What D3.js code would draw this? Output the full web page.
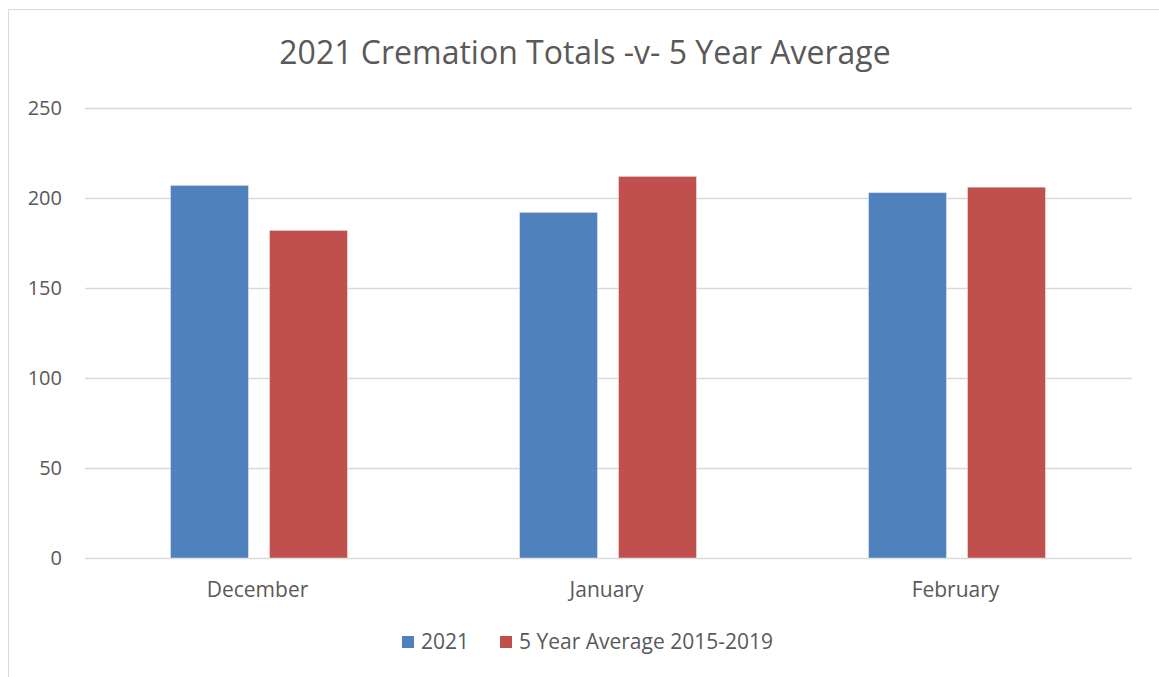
<!DOCTYPE html>
<html>
<head>
<meta charset="utf-8">
<script src="https://cdn.jsdelivr.net/npm/d3@7"></script>
<style>
  body { margin: 0; background: #fff; }
  svg text { font-family: "Open Sans", "Liberation Sans", sans-serif; fill: #595959; }
</style>
</head>
<body>
<svg></svg>
<script>
const width = 1159;
const height = 677;

// data
const months = ["December", "January", "February"];
const series = ["2021", "5 Year Average 2015-2019"];
const totals2021 = [207, 192, 203];
const avg5yr = [182, 212, 206];
const yTicks = [0, 50, 100, 150, 200, 250];
const colors = ["#4F81BD", "#C0504D"];

const plot = {left: 85, right: 1132, top: 108, bottom: 558};

let svg = d3.select("svg")
  .attr("width", width)
  .attr("height", height);

// chart border (left and top visible only)
svg.append("rect")
  .attr("x", 8.5).attr("y", 9.5)
  .attr("width", width + 20).attr("height", height + 20)
  .attr("fill", "none")
  .attr("stroke", "#d9d9d9");

svg.append("text")
  .attr("x", 585).attr("y", 64)
  .attr("text-anchor", "middle")
  .style("font-size", "32px")
  .text("2021 Cremation Totals -v- 5 Year Average");

let scX = d3.scaleBand()
  .domain(months)
  .range([plot.left, plot.right]);

let scY = d3.scaleLinear()
  .domain([0, 250])
  .range([plot.bottom, plot.top]);

// gridlines
svg.append("g")
  .selectAll("line")
  .data(yTicks)
  .enter().append("line")
  .attr("x1", plot.left).attr("x2", plot.right)
  .attr("y1", d => scY(d) + 0.5).attr("y2", d => scY(d) + 0.5)
  .attr("stroke", "#d9d9d9")
  .attr("stroke-width", 1.5);

// y labels
svg.append("g")
  .selectAll("text")
  .data(yTicks)
  .enter().append("text")
  .attr("x", 62)
  .attr("y", d => scY(d))
  .attr("dy", "0.35em")
  .attr("text-anchor", "end")
  .style("font-size", "20px")
  .text(d => d);

// x labels
svg.append("g")
  .selectAll("text")
  .data(months)
  .enter().append("text")
  .attr("x", d => scX(d) + scX.bandwidth() / 2 - 2)
  .attr("y", 597)
  .attr("text-anchor", "middle")
  .style("font-size", "21px")
  .text(d => d);

// bars
const barW = 78;
const gap = 21;
const allData = [totals2021, avg5yr];
allData.forEach((vals, s) => {
  svg.append("g")
    .selectAll("rect")
    .data(vals)
    .enter().append("rect")
    .attr("x", (d, i) => scX(months[i]) + scX.bandwidth() / 2 - barW - gap / 2 + s * (barW + gap) - 0.5)
    .attr("width", barW)
    .attr("y", d => scY(d))
    .attr("height", d => scY(0) - scY(d))
    .attr("fill", colors[s])
    .attr("stroke", "#ffffff")
    .attr("stroke-opacity", 0.4)
    .attr("stroke-width", 1);
});

// legend
const legendX = [402, 500];
let legend = svg.selectAll(".legend")
  .data(series)
  .enter().append("g")
  .attr("class", "legend")
  .attr("transform", (d, i) => `translate(${legendX[i]}, 636)`);

legend.append("rect")
  .attr("width", 12).attr("height", 12)
  .attr("fill", (d, i) => colors[i]);

legend.append("text")
  .attr("x", 19).attr("y", 6)
  .attr("dy", "0.35em")
  .style("font-size", "21px")
  .text(d => d);
</script>
</body>
</html>
